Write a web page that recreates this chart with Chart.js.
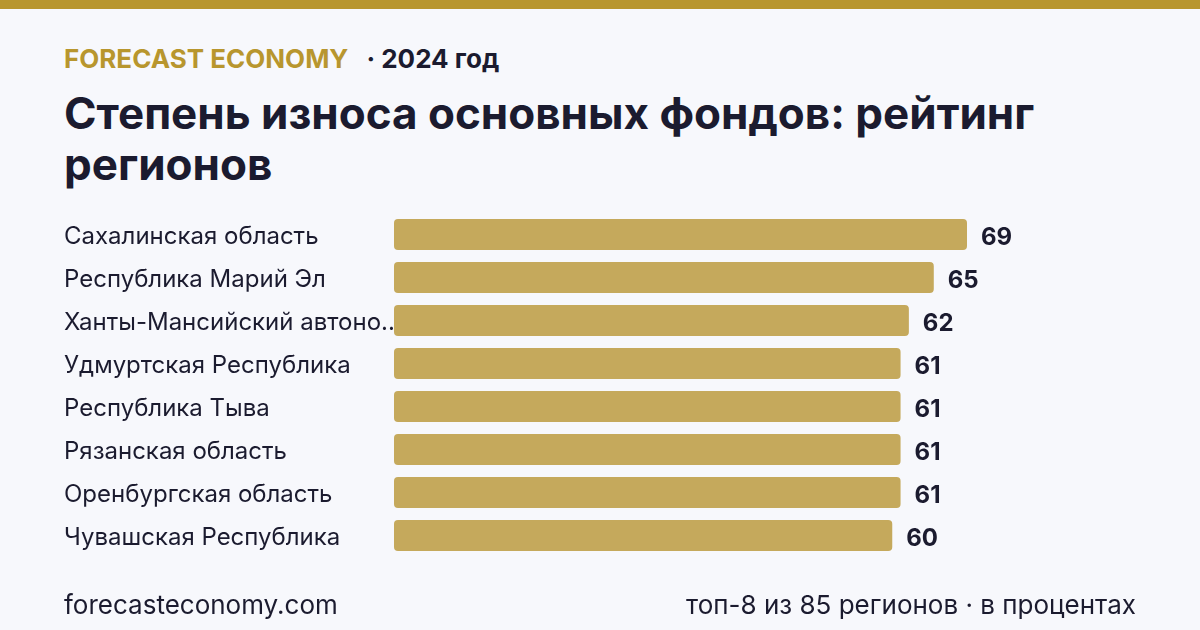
<!DOCTYPE html>
<html lang="ru">
<head>
<meta charset="utf-8">
<script src="https://cdn.jsdelivr.net/npm/chart.js@4.4.1/dist/chart.umd.min.js"></script>
<style>
  html, body { margin: 0; padding: 0; }
  body { width: 1200px; height: 630px; background: #f7f8fc; font-family: Inter, "Noto Sans", sans-serif; color: #1b1b2f; position: relative; overflow: hidden; }
  .topbar { position: absolute; left: 0; top: 0; width: 1200px; height: 9px; background: #b8962e; }
  .kicker { position: absolute; left: 64px; top: 43px; font-size: 26px; line-height: 1.21; font-weight: 700; white-space: nowrap; }
  .kicker .brand { color: #b8962e; }
  .kicker .year { color: #1b1b2f; margin-left: 18px; }
  h1 { position: absolute; left: 64px; top: 88px; margin: 0; width: 1080px; font-size: 44px; line-height: 51px; font-weight: 700; color: #1b1b2f; }
  .foot { position: absolute; top: 589px; font-size: 26px; line-height: 1.21; color: #1b1b2f; white-space: nowrap; }
  .foot.left { left: 64px; }
  .foot.right { right: 64px; }
  #chart { position: absolute; left: 0; top: 0; }
</style>
</head>
<body>
<div class="topbar"></div>
<div class="kicker"><span class="brand">FORECAST ECONOMY</span><span class="year">· 2024 год</span></div>
<h1>Степень износа основных фондов: рейтинг регионов</h1>
<canvas id="chart" width="1200" height="630"></canvas>
<div class="foot left">forecasteconomy.com</div>
<div class="foot right">топ-8 из 85 регионов · в процентах</div>
<script>
const regions = [
  'Сахалинская область',
  'Республика Марий Эл',
  'Ханты-Мансийский автономный округ — Югра',
  'Удмуртская Республика',
  'Республика Тыва',
  'Рязанская область',
  'Оренбургская область',
  'Чувашская Республика'
];
const wear = [69, 65, 62, 61, 61, 61, 61, 60];

const barColor = '#c5a95c';
const textColor = '#1b1b2f';

// value labels at the end of each bar
const valueLabels = {
  id: 'valueLabels',
  afterDatasetsDraw(chart) {
    const ctx = chart.ctx;
    const meta = chart.getDatasetMeta(0);
    ctx.save();
    ctx.font = '700 24px Inter';
    ctx.fillStyle = textColor;
    ctx.textAlign = 'left';
    ctx.textBaseline = 'middle';
    meta.data.forEach((bar, i) => {
      ctx.fillText(String(wear[i]), bar.x + 14, bar.y + 3);
    });
    ctx.restore();
  }
};

const ctx = document.querySelector('#chart').getContext('2d');
const myChart = new Chart(ctx, {
  type: 'bar',
  data: {
    labels: regions,
    datasets: [{
      data: wear,
      backgroundColor: barColor,
      borderWidth: 0,
      borderRadius: 4,
      borderSkipped: false,
      categoryPercentage: 1,
      barPercentage: 0.72
    }]
  },
  options: {
    indexAxis: 'y',
    responsive: false,
    animation: false,
    layout: { padding: { left: 64, right: 233, top: 213, bottom: 73 } },
    plugins: { legend: { display: false }, tooltip: { enabled: false } },
    scales: {
      x: { display: false, min: 0, max: 69 },
      y: {
        grid: { display: false },
        border: { display: false },
        afterFit(scale) { scale.width = 330; },
        ticks: {
          crossAlign: 'far',
          padding: 0,
          labelOffset: 2,
          color: textColor,
          font: { family: 'Inter', size: 24 },
          callback(value) {
            const name = regions[value];
            return name.length > 24 ? name.slice(0, 23) + '...' : name;
          }
        }
      }
    }
  },
  plugins: [valueLabels]
});
</script>
</body>
</html>
